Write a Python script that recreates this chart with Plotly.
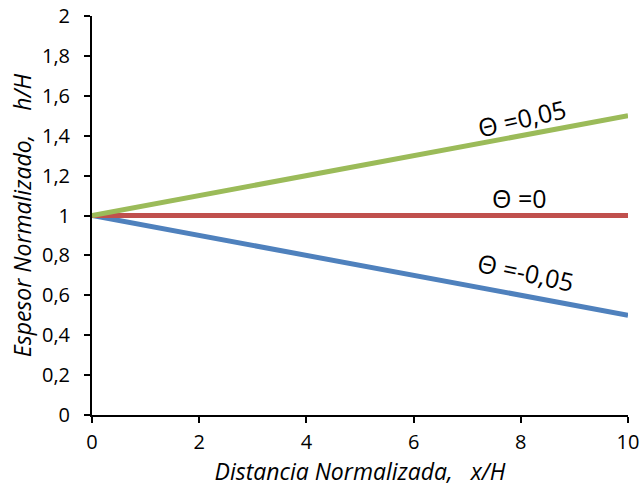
import plotly.graph_objects as go

x_vals = [0, 10]
theta_pos = [1.0, 1.5]
theta_zero = [1.0, 1.0]
theta_neg = [1.0, 0.5]

labels = ["Θ =0,05", "Θ =0", "Θ =-0,05"]
label_x = [8.02, 7.98, 8.1]
label_y = [1.49, 1.09, 0.715]
label_angle = [-13, 0, 12]

colors = ["#9BBB59", "#C0504D", "#4F81BD"]

fig = go.Figure()
for ys, c in zip([theta_neg, theta_zero, theta_pos], [colors[2], colors[1], colors[0]]):
    fig.add_trace(go.Scatter(x=x_vals, y=ys, mode="lines",
                             line=dict(color=c, width=5), showlegend=False))

for t, xx, yy, a in zip(labels, label_x, label_y, label_angle):
    fig.add_annotation(x=xx, y=yy, text=t, showarrow=False, textangle=a,
                       font=dict(size=25, color="black", family="Open Sans"))

font = "Open Sans"
fig.update_layout(
    width=640, height=487,
    margin=dict(l=92, r=12, t=16, b=72),
    paper_bgcolor="white", plot_bgcolor="white",
    separators=",.",
    font=dict(family=font, size=20, color="black"),
    xaxis=dict(range=[0, 10], dtick=2, tick0=0, showgrid=False, zeroline=False,
               automargin=False,
               showline=True, linecolor="black", linewidth=2,
               ticks="outside", ticklen=6, tickwidth=1.5, tickcolor="black",
               ticklabelstandoff=2, tickfont=dict(size=20),
               title=dict(text="<i>Distancia Normalizada,   x/H</i>", font=dict(size=23), standoff=0)),
    yaxis=dict(range=[0, 2], dtick=0.2, tick0=0, showgrid=False, zeroline=False,
               automargin=False,
               showline=True, linecolor="black", linewidth=2,
               ticks="outside", ticklen=6, tickwidth=1.5, tickcolor="black",
               ticklabelstandoff=10, tickfont=dict(size=20),
               title=dict(text="<i>Espesor Normalizado,    h/H</i>", font=dict(size=23), standoff=4)),
)

fig.write_html("out.html")
